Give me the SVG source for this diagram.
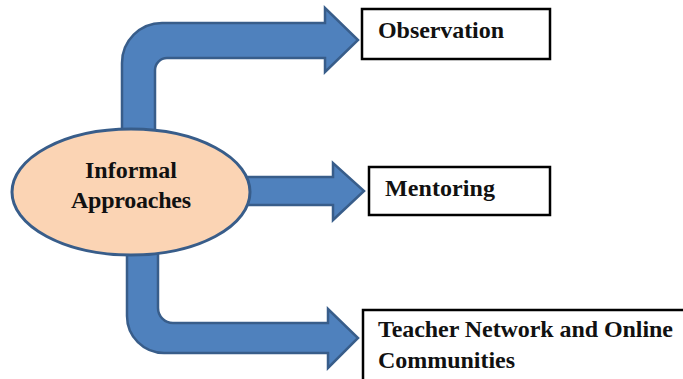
<svg xmlns="http://www.w3.org/2000/svg" width="683" height="379" viewBox="0 0 683 379">
<style>
.arrow{fill:#4F81BD;stroke:#385D8A;stroke-width:2.5;stroke-linejoin:miter}
.box{fill:#fff;stroke:#000;stroke-width:2.5}
.t{font-family:"Liberation Serif","Times New Roman",serif;font-weight:bold;font-size:24px;fill:#111}
</style>
<rect width="683" height="379" fill="#fff"/>
<g id="connectors">
<path class="arrow" d="M122,150 L122,63 A40,40 0 0 1 162,23 L325,23 L325,8 L358,40 L325,72 L325,58 L167,58 A12,12 0 0 0 155,70 L155,150 Z"/>
<path class="arrow" d="M235,177 L333,177 L333,163 L364,191 L333,220 L333,205 L235,205 Z"/>
<path class="arrow" d="M127,235 L127,316 A37,37 0 0 0 164,353 L328,353 L328,368 L358,338 L328,309 L328,323 L173,323 A15,15 0 0 1 158,308 L158,235 Z"/>
</g>
<g id="informal">
<ellipse cx="131" cy="192" rx="119" ry="63" fill="#FBD4B4" stroke="#385D8A" stroke-width="3"/>
<text class="t" x="131" y="178" text-anchor="middle" textLength="92">Informal</text>
<text class="t" x="131" y="208" text-anchor="middle" textLength="120">Approaches</text>
</g>
<g id="observation">
<rect class="box" x="362" y="9" width="188" height="50"/>
<text class="t" x="378" y="38" textLength="126">Observation</text>
</g>
<g id="mentoring">
<rect class="box" x="369" y="167" width="181" height="48"/>
<text class="t" x="385" y="196" textLength="110">Mentoring</text>
</g>
<g id="teacher">
<rect class="box" x="363" y="310" width="340" height="100"/>
<text class="t" x="378" y="337" textLength="295">Teacher Network and Online</text>
<text class="t" x="378" y="368" textLength="137">Communities</text>
</g>
</svg>
